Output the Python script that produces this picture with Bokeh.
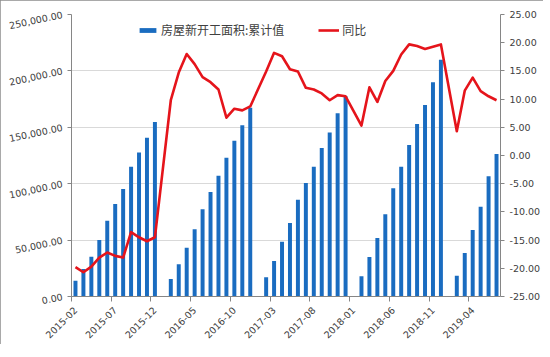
from bokeh.plotting import figure
from bokeh.models import (Range1d, LinearAxis, FixedTicker, NumeralTickFormatter,
                          ColumnDataSource, Legend, LegendItem)
from bokeh.embed import file_html
from bokeh.resources import INLINE

# ---------------- data ----------------
months = ([f"2015-{m:02d}" for m in range(2, 13)] +
          [f"2016-{m:02d}" for m in range(1, 13)] +
          [f"2017-{m:02d}" for m in range(1, 13)] +
          [f"2018-{m:02d}" for m in range(1, 13)] +
          [f"2019-{m:02d}" for m in range(1, 8)])

# 房屋新开工面积:累计值 (January has no value)
area = [13900, 24400, 35300, 50100, 67200, 82000, 95300, 115000, 127700, 140800, 154700,
        None, 15500, 28500, 43300, 59600, 77300, 92600, 107100, 123000, 138100, 151800, 167400,
        None, 17000, 31500, 48600, 65200, 85800, 100600, 115100, 131600, 145500, 162400, 177500,
        None, 17900, 35000, 51900, 72900, 95900, 115100, 134300, 152900, 169800, 189900, 209900,
        None, 18400, 38600, 59000, 79600, 106500, 126300]

# 同比
yoy = [-19.8, -20.7, -19.7, -18.1, -17.2, -17.8, -18.1, -13.6, -14.5, -15.2, -14.5,
       None, 9.8, 14.7, 18.0, 16.2, 13.9, 13.0, 11.7, 6.7, 8.3, 8.0, 8.7,
       None, 14.9, 18.2, 17.6, 15.3, 14.9, 12.0, 11.7, 11.0, 9.8, 10.7, 10.5,
       None, 5.3, 12.1, 9.5, 13.2, 15.0, 17.9, 19.7, 19.4, 18.9, 19.3, 19.7,
       None, 4.3, 11.5, 13.8, 11.4, 10.5, 9.8]

x_tick_labels = ["2015-02", "2015-07", "2015-12", "2016-05", "2016-10", "2017-03",
                 "2017-08", "2018-01", "2018-06", "2018-11", "2019-04"]

left_ticks = [0, 50000, 100000, 150000, 200000, 250000]
right_ticks = [-25, -20, -15, -10, -5, 0, 5, 10, 15, 20, 25]

# ---------------- sources ----------------
bar_x = [i + 0.5 for i, v in enumerate(area) if v is not None]
bar_v = [v for v in area if v is not None]
line_x = [i + 0.5 for i, v in enumerate(yoy) if v is not None]
line_v = [v for v in yoy if v is not None]
bar_src = ColumnDataSource(dict(x=bar_x, v=bar_v))
line_src = ColumnDataSource(dict(x=line_x, v=line_v))

BLUE = "#1A6CC0"
RED = "#E5141B"
AXIS = "#868686"
GRID = "#D9D9D9"
TXT = "#404040"
FONT = "DejaVu Sans"

p = figure(frame_width=429, frame_height=282,
           x_range=Range1d(0, len(months)), y_range=Range1d(0, 250000),
           output_backend="svg", toolbar_location=None,
           min_border_left=71, min_border_top=14, min_border_right=10, min_border_bottom=10,
           y_axis_location=None, x_axis_location=None)
p.outline_line_color = None
p.background_fill_color = "white"
p.border_fill_color = "white"
p.styles = {"outline": "1px solid #8c8c8c", "outline-offset": "-1px"}

p.extra_y_ranges = {"yoy": Range1d(-25, 25)}

# left axis
ly = LinearAxis(ticker=FixedTicker(ticks=left_ticks),
                formatter=NumeralTickFormatter(format="0,0.00"))
ly.major_label_orientation = 0.21
# right axis
ry = LinearAxis(y_range_name="yoy", ticker=FixedTicker(ticks=right_ticks),
                formatter=NumeralTickFormatter(format="0.00"))
# bottom axis
tick_pos = [i + 0.5 for i, m in enumerate(months) if m in x_tick_labels]
bx = LinearAxis(ticker=FixedTicker(ticks=tick_pos,
                                   minor_ticks=[i for i, m in enumerate(months) if m in x_tick_labels]),
                major_label_overrides={i + 0.5: m for i, m in enumerate(months) if m in x_tick_labels})
bx.major_label_orientation = 0.785398
bx.major_tick_line_color = None
bx.minor_tick_in = 0
bx.minor_tick_out = 5
bx.minor_tick_line_color = AXIS

for ax in (ly, ry, bx):
    ax.axis_line_color = AXIS
    ax.major_label_text_font = FONT
    ax.major_label_text_font_size = "9.5px"
    ax.major_label_text_color = TXT
for ax in (ly, ry):
    ax.major_tick_line_color = AXIS
    ax.major_tick_in = 0
    ax.major_tick_out = 4
    ax.minor_tick_line_color = None
ly.major_label_standoff = 5
ry.major_label_standoff = 5
bx.major_label_standoff = 6

p.add_layout(ly, "left")
p.add_layout(ry, "right")
p.add_layout(bx, "below")

p.xgrid.visible = False
p.ygrid.ticker = FixedTicker(ticks=left_ticks[1:])
p.ygrid.grid_line_color = GRID
p.ygrid.grid_line_width = 1

bars = p.vbar(x="x", top="v", width=0.5, source=bar_src, fill_color=BLUE, line_color=None)
ln = p.line(x="x", y="v", source=line_src, y_range_name="yoy", line_color=RED,
            line_width=2.6, line_join="round")

legend = Legend(items=[LegendItem(label="房屋新开工面积:累计值", renderers=[bars]),
                       LegendItem(label="同比", renderers=[ln])],
                orientation="horizontal", location=(66, 258))
legend.border_line_color = None
legend.background_fill_alpha = 0
legend.label_text_font = "Noto Sans CJK SC"
legend.label_text_font_size = "12px"
legend.label_text_color = TXT
legend.glyph_width = 21
legend.glyph_height = 6
legend.label_height = 16
legend.label_standoff = 3
legend.spacing = 34
legend.padding = 0
legend.margin = 0
p.add_layout(legend, "center")

open("out.html", "w").write(file_html(p, INLINE))
